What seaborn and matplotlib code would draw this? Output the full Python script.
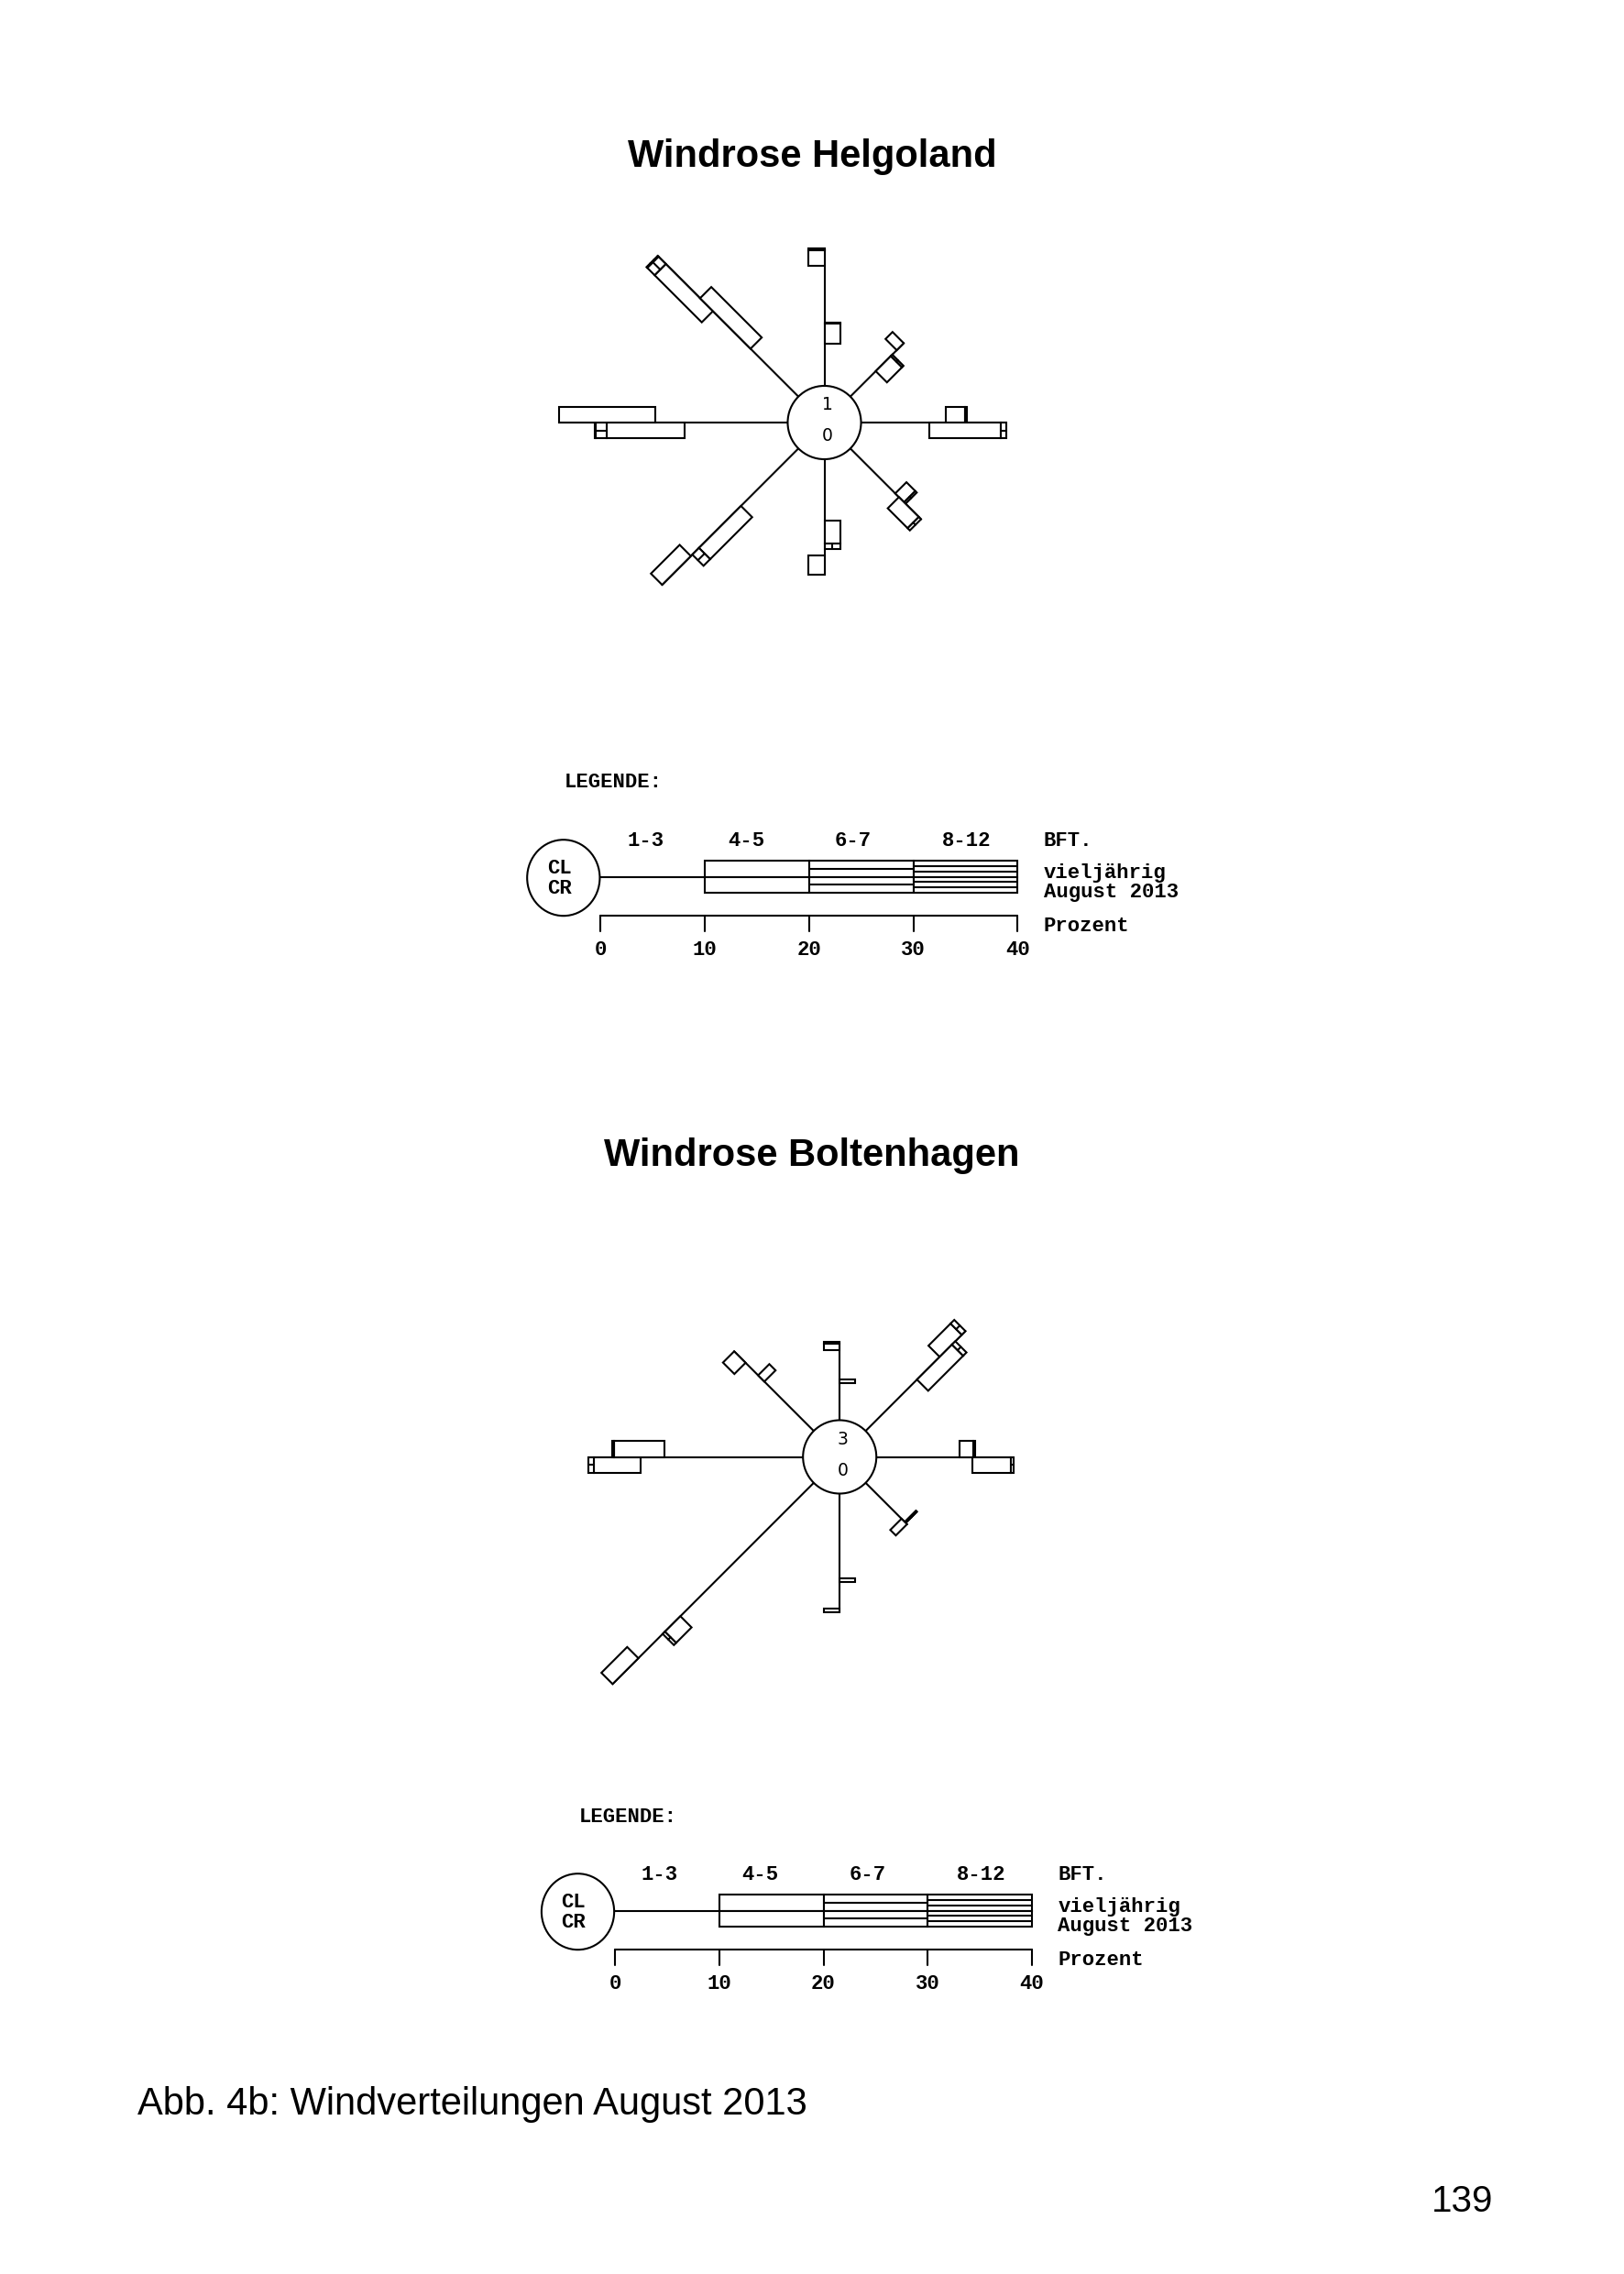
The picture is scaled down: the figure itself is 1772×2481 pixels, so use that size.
import numpy as np
import pandas as pd
import matplotlib
matplotlib.use("Agg")
import matplotlib.pyplot as plt
import seaborn as sns
from matplotlib.patches import Polygon, Circle, Ellipse

sns.set_theme(style="white")
plt.rcParams['font.family'] = ['Liberation Sans', 'DejaVu Sans']
plt.rcParams['text.color'] = 'black'

# Richtungen und Windstaerkeklassen
richtungen = ["N", "NE", "E", "SE", "S", "SW", "W", "NW"]
winkel = [90, 45, 0, -45, -90, -135, 180, 135]
bft_klassen = ["1-3", "4-5", "6-7", "8-12"]

# Prozent je Richtung, Spalten = Bft 1-3, 4-5, 6-7, 8-12
helgo_viel = [[11.5, 1.5, 0.15, 0], [6.3, 0.95, 0, 0], [8.1, 1.85, 0.25, 0], [6.1, 1.2, 0.2, 0],
              [5.9, 2.2, 0.5, 0], [7.8, 5.7, 0.9, 0], [9.9, 7.5, 1.0, 0.15], [11.6, 6.4, 1.0, 0.1]]
helgo_aug = [[4.05, 1.9, 0.1, 0], [3.45, 2.05, 0.2, 0], [6.55, 6.85, 0.55, 0], [6.6, 2.7, 0.3, 0],
             [9.2, 1.85, 0, 0], [14.6, 3.9, 0, 0], [12.7, 9.2, 0, 0], [6.5, 6.85, 0, 0]]
helgo_calm = [1, 0]

bolt_viel = [[6.7, 0.65, 0.2, 0], [10.05, 3.0, 0.5, 0], [7.96, 1.35, 0.2, 0], [5.3, 0.1, 0.05, 0],
             [8.1, 0.35, 0, 0], [18.1, 2.1, 0.3, 0], [15.6, 4.5, 0.5, 0], [9.25, 1.55, 0, 0]]
bolt_aug = [[3.55, 0.4, 0, 0], [6.97, 4.75, 0.45, 0], [9.2, 3.75, 0.2, 0], [4.87, 0.75, 0, 0],
            [11.0, 0.35, 0, 0], [23.8, 3.5, 0, 0], [13.3, 4.8, 0.2, 0], [6.7, 0.85, 0, 0]]
bolt_calm = [3, 0]

prozent_ticks = [0, 10, 20, 30, 40]

# Layout (Pixel auf der Seite)
W_PX, H_PX = 1772, 2481
S = 11.37          # Pixel je Prozent
R = 3.52           # Radius Kreis in Prozent
BW = 1.52          # Balkenbreite in Prozent
LW = 1.5
hatch_frac = {1: [], 2: [0.5], 3: [1 / 3, 2 / 3]}
MONO = ['Liberation Mono', 'DejaVu Sans Mono']

fig = plt.figure(figsize=(W_PX / 100, H_PX / 100), dpi=100)
page = fig.add_axes([0, 0, 1, 1])
page.set_xlim(0, W_PX)
page.set_ylim(H_PX, 0)
page.axis("off")


def rose_axes(cx, cy, ext=34):
    half = ext * S
    ax = fig.add_axes([(cx - half) / W_PX, 1 - (cy + half) / H_PX, 2 * half / W_PX, 2 * half / H_PX])
    ax.patch.set_alpha(0)
    return ax


def draw_rose(ax, viel, aug, calm):
    # Speichen
    rows = []
    for i, th in enumerate(winkel):
        t = np.deg2rad(th)
        tot = max(sum(viel[i]), sum(aug[i]))
        for r in (R, R + tot):
            rows.append({"richtung": richtungen[i], "x": r * np.cos(t), "y": r * np.sin(t)})
    df = pd.DataFrame(rows)
    sns.lineplot(data=df, x="x", y="y", units="richtung", estimator=None, sort=False,
                 color="black", lw=LW, ax=ax, legend=False)
    ax.set_xlim(-34, 34)
    ax.set_ylim(-34, 34)
    ax.axis("off")

    for i, th in enumerate(winkel):
        t = np.deg2rad(th)
        u = np.array([np.cos(t), np.sin(t)])
        n = np.array([-np.sin(t), np.cos(t)])
        # vieljaehrig links der Speiche, August 2013 rechts
        for vals, side in ((viel[i], 1), (aug[i], -1)):
            r = R + vals[0]
            sv = side * BW * n
            for k in range(1, 4):
                v = vals[k]
                if v <= 0:
                    continue
                a, b = r, r + v
                pts = [a * u, b * u, b * u + sv, a * u + sv]
                ax.add_patch(Polygon(pts, closed=True, fc="white", ec="black", lw=LW, joinstyle="miter", zorder=3))
                for f in hatch_frac[k]:
                    q = f * sv
                    ax.plot([a * u[0] + q[0], b * u[0] + q[0]], [a * u[1] + q[1], b * u[1] + q[1]],
                            color="black", lw=LW, zorder=4)
                r = b
    ax.add_patch(Circle((0, 0), R, fc="white", ec="black", lw=LW, zorder=5))
    ax.text(0.28, 1.7, str(calm[0]), ha="center", va="center", fontsize=13.5, family="DejaVu Sans", zorder=6)
    ax.text(0.28, -1.29, str(calm[1]), ha="center", va="center", fontsize=13.5, family="DejaVu Sans", zorder=6)


def draw_legend(x0, ytop):
    ax = fig.add_axes([(x0 - 8 * S) / W_PX, 1 - (ytop + 220) / H_PX, 68 * S / W_PX, 220 / H_PX])
    ax.set_xlim(-8, 60)
    ax.set_ylim(220, 0)
    ax.axis("off")
    ax.patch.set_alpha(0)
    fs = 16
    kw = dict(family=MONO, fontsize=fs, fontweight="bold", va="center")
    ax.text(-3.47, 14, "LEGENDE:", ha="left", **kw)
    for lab, xp in zip(bft_klassen, [4.3, 13.95, 24.2, 35.1]):
        ax.text(xp, 77.3, lab, ha="center", **kw)
    ax.text(42.5, 77.3, "BFT.", ha="left", **kw)
    ax.text(42.5, 112.7, "vieljährig", ha="left", **kw)
    ax.text(42.5, 133.3, "August 2013", ha="left", **kw)
    ax.text(42.5, 170, "Prozent", ha="left", **kw)

    ax.add_patch(Ellipse((-3.57, 117.7), 6.97, 83, fc="white", ec="black", lw=LW))
    ax.text(-3.99, 107.3, "CL", ha="center", **kw)
    ax.text(-3.99, 129.3, "CR", ha="center", **kw)

    ytop_box, ymid, ybot = 99.3, 116.7, 134
    ax.plot([0, prozent_ticks[1]], [ymid, ymid], color="black", lw=LW)
    for k in range(1, 4):
        a, b = prozent_ticks[k], prozent_ticks[k + 1]
        for y0, y1 in ((ytop_box, ymid), (ymid, ybot)):
            ax.add_patch(Polygon([[a, y0], [b, y0], [b, y1], [a, y1]], closed=True,
                                 fc="white", ec="black", lw=LW))
            for f in hatch_frac[k]:
                yy = y0 + f * (y1 - y0)
                ax.plot([a, b], [yy, yy], color="black", lw=LW)

    ax.plot([prozent_ticks[0], prozent_ticks[-1]], [159, 159], color="black", lw=LW)
    for tk in prozent_ticks:
        ax.plot([tk, tk], [159, 175.7], color="black", lw=LW)
        ax.text(tk, 196.7, str(tk), ha="center", **kw)


# Helgoland
page.text(886, 171, "Windrose Helgoland", ha="center", va="center", fontsize=30, fontweight="bold")
ax1 = rose_axes(899.5, 461)
draw_rose(ax1, helgo_viel, helgo_aug, helgo_calm)
draw_legend(655.4, 840)

# Boltenhagen
page.text(886, 1261, "Windrose Boltenhagen", ha="center", va="center", fontsize=30, fontweight="bold")
ax2 = rose_axes(916.2, 1589.5)
draw_rose(ax2, bolt_viel, bolt_aug, bolt_calm)
draw_legend(671.1, 1968)

page.text(150, 2296, "Abb. 4b: Windverteilungen August 2013", ha="left", va="center", fontsize=30)
page.text(1629, 2402, "139", ha="right", va="center", fontsize=29)

fig.savefig("out.png", dpi=100, facecolor="white")
